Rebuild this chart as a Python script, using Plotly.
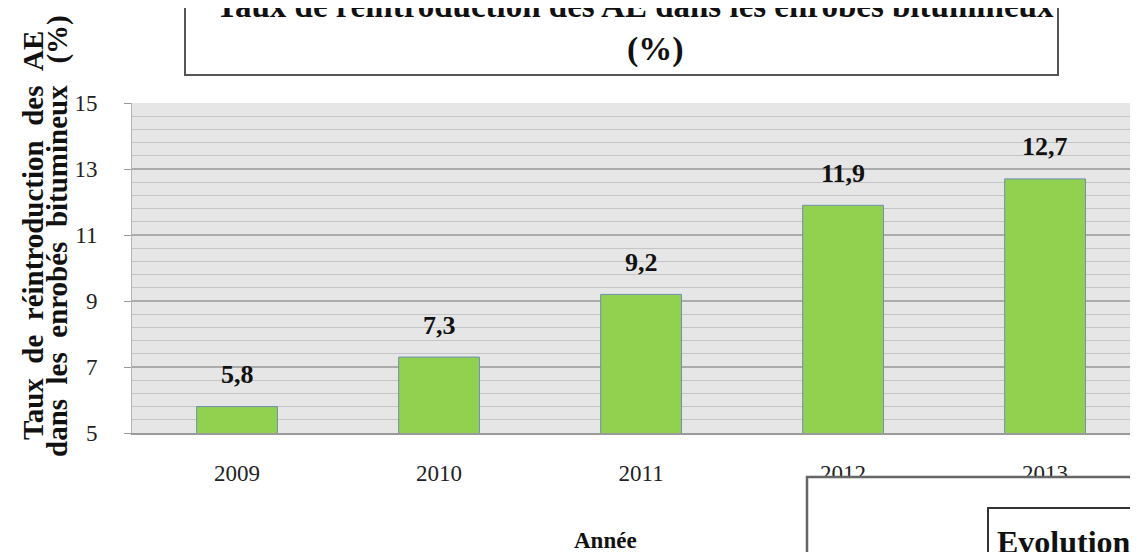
import plotly.graph_objects as go

# data
annees = ["2009", "2010", "2011", "2012", "2013"]
taux = [5.8, 7.3, 9.2, 11.9, 12.7]
etiquettes = ["5,8", "7,3", "9,2", "11,9", "12,7"]
y_ticks = [5, 7, 9, 11, 13, 15]

SERIF = "Liberation Serif, Times New Roman, serif"
SP = "\u00a0"

fig = go.Figure()
fig.add_trace(go.Bar(
    x=annees, y=taux, width=0.4,
    marker=dict(color="#92D050", line=dict(color="#6F8FB0", width=1)),
    hoverinfo="skip",
))

# value labels above the bars (x given as category index)
for i, (v, t) in enumerate(zip(taux, etiquettes)):
    fig.add_annotation(x=i, y=v, text="<b>%s</b>" % t, showarrow=False,
                       xanchor="center", yanchor="middle", yshift=32,
                       font=dict(family=SERIF, size=26, color="#111"))

# window coords: the page body has an 8px margin, so the figure is 8px smaller
# plot area spans 132..1138 px wide, 103..433 px high (window pixels)
W, H = 1006, 330
def px(x):
    return (x - 132) / W
def py(y):
    return (433 - y) / H

# title box (cut off by the top of the page)
fig.add_shape(type="rect", xref="paper", yref="paper",
              x0=px(185), x1=px(1058), y0=py(75), y1=py(-40),
              line=dict(color="#555", width=2), fillcolor="white", layer="above")
fig.add_annotation(xref="paper", yref="paper", x=px(635), y=py(26),
                   xanchor="center", yanchor="bottom", showarrow=False,
                   text="<b>Taux de réintroduction des AE dans les enrobés bitumineux</b>",
                   font=dict(family=SERIF, size=33, color="#111"))
fig.add_annotation(xref="paper", yref="paper", x=px(655), y=py(49),
                   xanchor="center", yanchor="middle", showarrow=False, text="<b>(%)</b>",
                   font=dict(family=SERIF, size=34, color="#111"))

# y axis title, two rotated lines
fig.add_annotation(xref="paper", yref="paper", x=px(33), y=py(236),
                   xanchor="center", yanchor="middle",
                   textangle=-90, showarrow=False,
                   text="<b>Taux" + SP * 2 + "de" + SP * 2 + "réintroduction" + SP * 2
                        + "des" + SP * 2 + "AE</b>",
                   font=dict(family=SERIF, size=29, color="#111"))
fig.add_annotation(xref="paper", yref="paper", x=px(57), y=py(236),
                   xanchor="center", yanchor="middle",
                   textangle=-90, showarrow=False,
                   text="<b>dans" + SP * 2 + "les" + SP * 2 + "enrobés" + SP * 2
                        + "bitumineux" + SP * 3 + "(%)</b>",
                   font=dict(family=SERIF, size=29, color="#111"))

# x axis title
fig.add_annotation(xref="paper", yref="paper", x=px(605), y=py(540),
                   xanchor="center", yanchor="middle",
                   showarrow=False, text="<b>Année</b>",
                   font=dict(family=SERIF, size=23, color="#111"))

# overlapping boxes at bottom right
fig.add_shape(type="rect", xref="paper", yref="paper",
              x0=px(807), x1=px(1200), y0=py(477), y1=py(700),
              line=dict(color="#666", width=2.5), fillcolor="white", layer="above")
fig.add_shape(type="rect", xref="paper", yref="paper",
              x0=px(988), x1=px(1200), y0=py(508), y1=py(700),
              line=dict(color="#333", width=2), fillcolor="white", layer="above")
fig.add_annotation(xref="paper", yref="paper", x=px(995), y=py(522),
                   xanchor="left", yanchor="top", showarrow=False,
                   text="<b>Evolution</b>",
                   font=dict(family=SERIF, size=32, color="#111"))

fig.update_layout(
    width=1130, height=544,
    margin=dict(l=124, r=0, t=95, b=119),
    paper_bgcolor="white", plot_bgcolor="#E6E6E6",
    showlegend=False,
    font=dict(family=SERIF),
)
fig.update_xaxes(
    type="category", range=[-0.52, 4.46],
    showgrid=False, showline=True, linecolor="#9a9a9a", linewidth=2,
    ticks="", ticklabelstandoff=18,
    tickfont=dict(family=SERIF, size=23, color="#222"),
)
fig.update_yaxes(
    range=[5, 15], tickvals=y_ticks,
    showgrid=True, gridcolor="#ABABAB", gridwidth=2,
    minor=dict(dtick=0.4, tick0=5, showgrid=True, gridcolor="#C4C4C4", gridwidth=1),
    showline=True, linecolor="#B5B5B5", linewidth=1,
    ticks="outside", ticklen=7, tickcolor="#9a9a9a",
    ticklabelstandoff=22, zeroline=False,
    tickfont=dict(family=SERIF, size=23, color="#222"),
)

fig.write_html("out.html")
